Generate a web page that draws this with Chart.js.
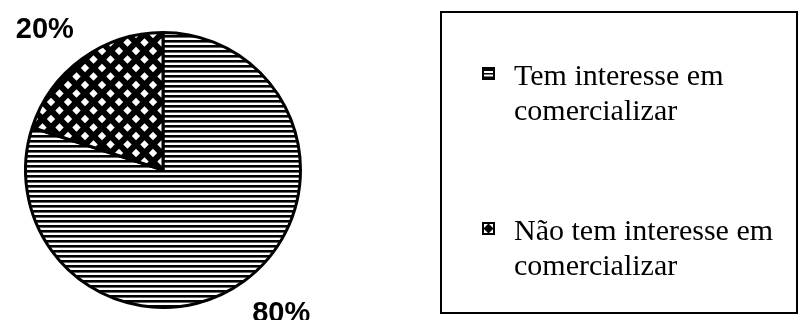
<!DOCTYPE html>
<html>
<head>
<meta charset="utf-8">
<script src="https://cdn.jsdelivr.net/npm/chart.js@4"></script>
<style>
  body { margin: 0; background: #fff; }
  #wrap { position: relative; width: 810px; height: 320px; overflow: hidden; }
  #pie { position: absolute; left: 0; top: 0; }
  #legend {
    position: absolute; left: 440px; top: 11px; width: 354px; height: 299px;
    border: 2px solid #000; font-family: "Liberation Serif", "Times New Roman", serif;
    font-size: 30px; line-height: 35px; color: #000;
  }
  .item { position: absolute; left: 72px; }
  .item canvas { position: absolute; left: -32px; top: 10px; }
</style>
</head>
<body>
<div id="wrap">
  <canvas id="pie" width="810" height="320"></canvas>
  <div id="legend"></div>
</div>
<script>
// dados
const categories = ['Tem interesse em comercializar', 'Não tem interesse em comercializar'];
const legendLines = [['Tem interesse em', 'comercializar'], ['Não tem interesse em', 'comercializar']];
const values = [80, 20];
const valueLabels = ['80%', '20%'];

// padrões de preenchimento
function stripes() {
  const c = document.createElement('canvas');
  c.width = 5; c.height = 5;
  const x = c.getContext('2d');
  x.fillStyle = '#fff'; x.fillRect(0, 0, 5, 5);
  x.fillStyle = '#000'; x.fillRect(0, 0, 5, 2);
  x.fillStyle = '#666'; x.fillRect(0, 2, 5, 1);
  return x.createPattern(c, 'repeat');
}
function checker() {
  const s = 17, h = 8.5, d = 4.2;
  const c = document.createElement('canvas');
  c.width = s; c.height = s;
  const x = c.getContext('2d');
  x.fillStyle = '#000'; x.fillRect(0, 0, s, s);
  x.fillStyle = '#fff';
  x.filter = 'blur(0.7px)';
  [[0, 0], [s, 0], [0, s], [s, s], [h, h]].forEach(([cx, cy]) => {
    x.beginPath();
    x.moveTo(cx, cy - d); x.lineTo(cx + d, cy); x.lineTo(cx, cy + d); x.lineTo(cx - d, cy);
    x.closePath(); x.fill();
  });
  return x.createPattern(c, 'repeat');
}
const fills = [stripes(), checker()];

// rótulos de percentagem fora da pizza
const outsideLabels = {
  id: 'outsideLabels',
  afterDatasetsDraw(chart) {
    const ctx = chart.ctx;
    const meta = chart.getDatasetMeta(0);
    ctx.save();
    ctx.font = 'bold 29px "Liberation Sans", Arial, sans-serif';
    ctx.fillStyle = '#000';
    ctx.textAlign = 'center';
    ctx.textBaseline = 'middle';
    meta.data.forEach((arc, i) => {
      const mid = (arc.startAngle + arc.endAngle) / 2;
      const r = arc.outerRadius + 38;
      const dx = Math.cos(mid), dy = Math.sin(mid);
      ctx.fillText(valueLabels[i], arc.x + dx * r + Math.sign(dx) * 15, arc.y + dy * r + 2);
    });
    ctx.restore();
  }
};

new Chart(document.getElementById('pie'), {
  type: 'pie',
  data: {
    labels: categories,
    datasets: [{ data: values, backgroundColor: fills, borderColor: '#000', borderWidth: 3 }]
  },
  options: {
    responsive: false,
    animation: false,
    layout: { padding: { left: 24, right: 508, top: 31, bottom: 11 } },
    plugins: { legend: { display: false }, tooltip: { enabled: false } }
  },
  plugins: [outsideLabels]
});

// legenda
function marker(i) {
  const c = document.createElement('canvas');
  c.width = 13; c.height = 13;
  const x = c.getContext('2d');
  x.fillStyle = '#fff'; x.fillRect(0, 0, 13, 13);
  x.fillStyle = '#000';
  if (i === 0) {
    x.fillRect(2, 2, 9, 2); x.fillRect(2, 6, 9, 1.5); x.fillRect(2, 9.5, 9, 2);
  } else {
    x.beginPath(); x.moveTo(6.5, 1.5); x.lineTo(11.5, 6.5); x.lineTo(6.5, 11.5); x.lineTo(1.5, 6.5); x.closePath(); x.fill();
  }
  x.lineWidth = 2; x.strokeRect(1, 1, 11, 11);
  return c;
}
const legend = document.getElementById('legend');
const tops = [44, 199];
legendLines.forEach((lines, i) => {
  const div = document.createElement('div');
  div.className = 'item';
  div.style.top = tops[i] + 'px';
  div.innerHTML = lines.join('<br>');
  div.appendChild(marker(i));
  legend.appendChild(div);
});
</script>
</body>
</html>
